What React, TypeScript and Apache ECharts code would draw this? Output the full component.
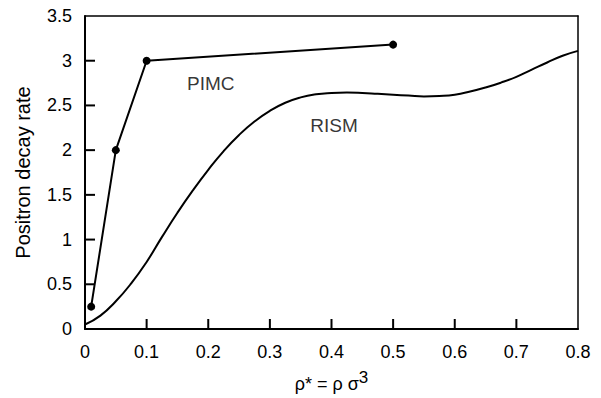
import React, { useEffect, useRef } from "react";
import * as echarts from "echarts";

const xTicks = { min: 0, max: 0.8, interval: 0.1 };
const yTicks = { min: 0, max: 3.5, interval: 0.5 };
const xTickValues = [0.1, 0.2, 0.3, 0.4, 0.5, 0.6, 0.7];
const yTickValues = [0.5, 1, 1.5, 2, 2.5, 3];

const pimcX = [0.01, 0.05, 0.1, 0.5];
const pimcY = [0.25, 2.0, 3.0, 3.18];

const rismX = [0, 0.025, 0.05, 0.075, 0.1, 0.125, 0.15, 0.175, 0.2, 0.225, 0.25, 0.275, 0.3, 0.325, 0.35, 0.375, 0.4, 0.425, 0.45, 0.475, 0.5, 0.525, 0.55, 0.575, 0.6, 0.625, 0.65, 0.675, 0.7, 0.725, 0.75, 0.775, 0.8];
const rismY = [0.05, 0.15, 0.31, 0.51, 0.75, 1.03, 1.3, 1.55, 1.78, 1.99, 2.17, 2.32, 2.44, 2.53, 2.59, 2.625, 2.64, 2.645, 2.64, 2.63, 2.62, 2.61, 2.6, 2.605, 2.62, 2.655, 2.7, 2.755, 2.82, 2.9, 2.98, 3.055, 3.11];

const seriesLabels = ["PIMC", "RISM"];
const labelX = [0.204, 0.404];
const labelY = [2.74, 2.27];

const xName = "ρ* = ρ σ";
const xNameSup = "3";
const yName = "Positron decay rate";

const FONT = "'Liberation Sans', Arial, Helvetica, sans-serif";
const TICK_LEN = 10;
const TICK_W = 2;

export default function App() {
  const ref = useRef<HTMLDivElement>(null);
  useEffect(() => {
    if (!ref.current) return;
    const chart = echarts.init(ref.current, undefined, { renderer: "svg" });
    const zip = (xs: number[], ys: number[]) => xs.map((x, i) => [x, ys[i]]);
    chart.setOption({
      animation: false,
      backgroundColor: "#ffffff",
      textStyle: { fontFamily: FONT, color: "#000" },
      grid: { left: 85, right: 23, top: 16, bottom: 68 },
      xAxis: [
        {
          type: "value",
          position: "bottom",
          min: xTicks.min,
          max: xTicks.max,
          interval: xTicks.interval,
          name: `{a|${xName}}{s|${xNameSup}}`,
          nameLocation: "middle",
          nameGap: 40,
          nameTextStyle: {
            rich: {
              a: { fontSize: 18, fontFamily: FONT, color: "#000", verticalAlign: "bottom", lineHeight: 24 },
              s: { fontSize: 17, fontFamily: FONT, color: "#000", verticalAlign: "top", lineHeight: 24, padding: [0, 0, 6, 0] },
            },
          },
          axisLine: { show: true, onZero: false, lineStyle: { color: "#000", width: 2 } },
          axisTick: { show: false },
          axisLabel: { show: true, color: "#000", fontSize: 18, fontFamily: FONT, margin: 14 },
          splitLine: { show: false },
        },
        {
          type: "value",
          position: "top",
          min: xTicks.min,
          max: xTicks.max,
          interval: xTicks.interval,
          axisLine: { show: true, onZero: false, lineStyle: { color: "#000", width: 1.5 } },
          axisTick: { show: false },
          axisLabel: { show: false },
          splitLine: { show: false },
        },
      ],
      yAxis: [
        {
          type: "value",
          position: "left",
          min: yTicks.min,
          max: yTicks.max,
          interval: yTicks.interval,
          name: yName,
          nameLocation: "middle",
          nameGap: 52,
          nameTextStyle: { fontSize: 20, fontFamily: FONT, color: "#000" },
          axisLine: { show: true, onZero: false, lineStyle: { color: "#000", width: 2 } },
          axisTick: { show: false },
          axisLabel: { show: true, color: "#000", fontSize: 18, fontFamily: FONT, margin: 13 },
          splitLine: { show: false },
        },
        {
          type: "value",
          position: "right",
          min: yTicks.min,
          max: yTicks.max,
          interval: yTicks.interval,
          axisLine: { show: true, onZero: false, lineStyle: { color: "#000", width: 1.5 } },
          axisTick: { show: false },
          axisLabel: { show: false },
          splitLine: { show: false },
        },
      ],
      series: [
        {
          name: "xTicks",
          type: "custom",
          clip: false,
          silent: true,
          data: xTickValues.map((v) => [v, yTicks.min]),
          renderItem: (_params: any, api: any) => {
            const p = api.coord([api.value(0), api.value(1)]);
            return {
              type: "rect",
              shape: { x: p[0] - TICK_W / 2, y: p[1] - TICK_LEN, width: TICK_W, height: TICK_LEN },
              style: { fill: "#000" },
            };
          },
          z: 10,
        },
        {
          name: "yTicks",
          type: "custom",
          clip: false,
          silent: true,
          data: yTickValues.map((v) => [xTicks.min, v]),
          renderItem: (_params: any, api: any) => {
            const p = api.coord([api.value(0), api.value(1)]);
            return {
              type: "rect",
              shape: { x: p[0], y: p[1] - TICK_W / 2, width: TICK_LEN, height: TICK_W },
              style: { fill: "#000" },
            };
          },
          z: 10,
        },
        {
          name: "RISM",
          type: "line",
          data: zip(rismX, rismY),
          smooth: 0.5,
          showSymbol: false,
          symbol: "none",
          lineStyle: { color: "#000", width: 2 },
          z: 3,
        },
        {
          name: "PIMC",
          type: "line",
          data: zip(pimcX, pimcY),
          symbol: "circle",
          symbolSize: 8,
          itemStyle: { color: "#000" },
          lineStyle: { color: "#000", width: 2 },
          z: 4,
        },
        {
          name: "labels",
          type: "scatter",
          data: seriesLabels.map((n, i) => ({ name: n, value: [labelX[i], labelY[i]] })),
          symbolSize: 0,
          label: {
            show: true,
            position: "inside",
            formatter: (p: any) => p.name,
            color: "#000",
            fontSize: 19,
            fontFamily: FONT,
          },
          silent: true,
          z: 5,
        },
      ],
    });
    return () => chart.dispose();
  }, []);
  return <div ref={ref} style={{ position: "fixed", left: 0, top: 0, width: 601, height: 398 }} />;
}
